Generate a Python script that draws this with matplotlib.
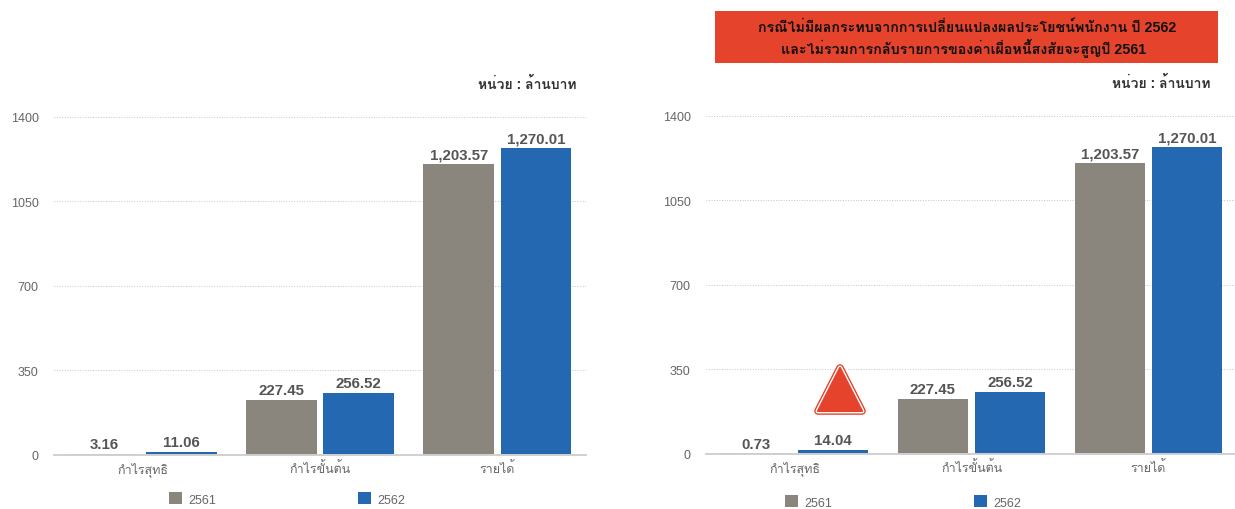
import numpy as np
import matplotlib
matplotlib.use('Agg')
import matplotlib.pyplot as plt
from matplotlib.patches import Rectangle, Polygon

plt.rcParams['font.family'] = ['Liberation Sans', 'Loma', 'Noto Sans Thai Looped', 'DejaVu Sans']

W, H = 1235, 510

categories = ['กำไรสุทธิ', 'กำไรขั้นต้น', 'รายได้']
years = ['2561', '2562']
left_2561 = [3.16, 227.45, 1203.57]
left_2562 = [11.06, 256.52, 1270.01]
right_2561 = [0.73, 227.45, 1203.57]
right_2562 = [14.04, 256.52, 1270.01]
y_ticks = [0, 350, 700, 1050, 1400]
unit_text = 'หน่วย : ล้านบาท'
note_lines = ['กรณีไม่มีผลกระทบจากการเปลี่ยนแปลงผลประโยชน์พนักงาน ปี 2562',
              'และไม่รวมการกลับรายการของค่าเผื่อหนี้สงสัยจะสูญปี 2561']

GRAY = '#8A857D'
BLUE = '#2368B0'
RED = '#E5432B'
TEXT = '#666666'


def fx(px):
    return px / W


def fy(py):
    return 1 - py / H


def draw_panel(fig, x0, x1, top, bottom, vals_a, vals_b, legend_x, legend_y, unit_x, unit_y):
    ax = fig.add_axes([fx(x0), fy(bottom), (x1 - x0) / W, (bottom - top) / H])
    x = np.arange(len(categories))
    w = 0.4
    gap = 0.018
    ax.bar(x - w / 2 - gap, vals_a, w, color=GRAY, zorder=3, label=years[0])
    ax.bar(x + w / 2 + gap, vals_b, w, color=BLUE, zorder=3, label=years[1])
    for xi, a, b in zip(x, vals_a, vals_b):
        ax.text(xi - w / 2 - gap, a + 12, f'{a:,.2f}', ha='center', va='bottom',
                fontsize=10.8, fontweight='bold', color='#555555', zorder=4)
        ax.text(xi + w / 2 + gap, b + 12, f'{b:,.2f}', ha='center', va='bottom',
                fontsize=10.8, fontweight='bold', color='#555555', zorder=4)
    ax.set_xlim(-0.5, 2.5)
    ax.set_ylim(0, 1400)
    ax.set_yticks(y_ticks)
    ax.set_xticks(x)
    ax.set_xticklabels(categories)
    ax.tick_params(axis='both', length=0, labelsize=9, labelcolor=TEXT)
    ax.tick_params(axis='x', pad=5)
    ax.tick_params(axis='y', pad=11)
    ax.grid(axis='y', color='#c4c4c4', linestyle=':', linewidth=0.7, zorder=0)
    ax.set_axisbelow(True)
    for name in ['top', 'right', 'left']:
        ax.spines[name].set_visible(False)
    ax.spines['bottom'].set_color('#d0d0d0')
    ax.spines['bottom'].set_linewidth(1.4)
    ax.spines['bottom'].set_zorder(5)
    ax.legend(loc='center', bbox_to_anchor=(fx(legend_x), fy(legend_y)),
              bbox_transform=fig.transFigure, ncol=2, frameon=False, fontsize=9,
              labelcolor=TEXT, handlelength=1.05, handleheight=1.05, handletextpad=0.5,
              columnspacing=11.3, borderpad=0, borderaxespad=0)
    fig.text(fx(unit_x), fy(unit_y), unit_text, ha='right', va='center',
             fontsize=10, fontweight='bold', color='#333333')
    return ax


fig = plt.figure(figsize=(W / 100, H / 100), dpi=100)

draw_panel(fig, 54, 586, 117.6, 455.6, left_2561, left_2562, 287, 500, 577, 84)
draw_panel(fig, 706, 1237, 116.6, 454.6, right_2561, right_2562, 903, 503, 1211, 83)

# red note above the right chart
fig.add_artist(Rectangle((fx(715), fy(63.5)), 503 / W, 51.5 / H, transform=fig.transFigure,
                         facecolor=RED, edgecolor='none'))
fig.text(fx(967), fy(28), note_lines[0], ha='center', va='center',
         fontsize=10.3, fontweight='bold', color='#111111')
fig.text(fx(964), fy(48), note_lines[1], ha='center', va='center',
         fontsize=10.3, fontweight='bold', color='#111111')

# warning triangle
tri = [(fx(840), fy(369)), (fx(862), fy(412)), (fx(818), fy(412))]
for lw, col, z in [(5.5, RED, 10), (3.5, 'white', 11), (1.5, RED, 12)]:
    fig.add_artist(Polygon(tri, closed=True, transform=fig.transFigure, facecolor=RED,
                           edgecolor=col, linewidth=lw, joinstyle='round', zorder=z))

fig.savefig('out.png', dpi=100)
